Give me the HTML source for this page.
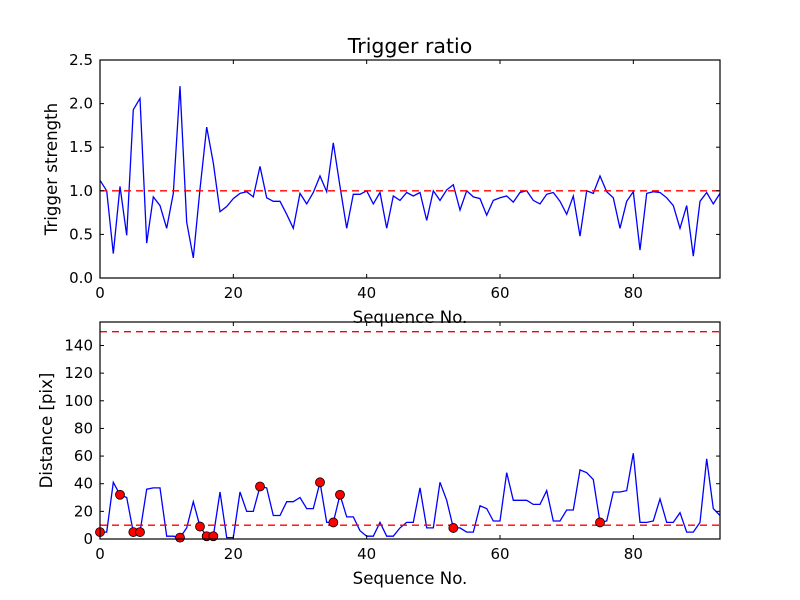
<!DOCTYPE html>
<html><head><meta charset="utf-8"><style>
body{margin:0;background:#fff}
svg{display:block;font-family:"DejaVu Sans","Liberation Sans",sans-serif}
</style></head><body>
<svg id="chart" width="800" height="600" viewBox="0 0 800 600">
<rect width="800" height="600" fill="#fff"/>
<text x="410" y="53" font-size="20.5" text-anchor="middle">Trigger ratio</text>
</svg>
<script>
const ratioValues=[1.12,1.0,0.28,1.05,0.49,1.93,2.06,0.40,0.93,0.83,0.57,0.97,2.20,0.64,0.23,1.02,1.73,1.32,0.76,0.82,0.91,0.97,0.99,0.93,1.28,0.92,0.88,0.88,0.73,0.57,0.97,0.85,0.98,1.17,0.99,1.55,1.05,0.57,0.96,0.96,1.0,0.85,0.98,0.57,0.94,0.89,0.98,0.94,0.98,0.66,1.0,0.89,1.01,1.07,0.78,1.0,0.93,0.91,0.72,0.89,0.92,0.94,0.87,0.98,1.0,0.89,0.85,0.96,0.98,0.88,0.73,0.94,0.48,1.0,0.97,1.17,0.99,0.92,0.57,0.88,0.99,0.32,0.97,0.99,0.98,0.92,0.83,0.57,0.83,0.25,0.88,0.98,0.85,0.97];
const distValues=[5,5,41,32,30,5,5,36,37,37,2,2,1,8,27,9,2,2,34,1,1,34,20,20,38,37,17,17,27,27,30,22,22,41,12,12,32,16,16,6,2,2,12,2,2,8,12,12,37,8,8,41,28,8,8,5,5,24,22,13,13,48,28,28,28,25,25,35,13,13,21,21,50,48,43,12,13,34,34,35,62,12,12,13,29,12,12,19,5,5,12,58,22,17];
const flaggedIdx=[0,3,5,6,12,15,16,17,24,33,35,36,53,75];
const xTicks=[0,20,40,60,80];
const ratioTicks=[0,0.5,1.0,1.5,2.0,2.5];
const ratioTickLabels=["0.0","0.5","1.0","1.5","2.0","2.5"];
const distTicks=[0,20,40,60,80,100,120,140];
const ratioThreshold=1.0;
const distThresholds=[10,150];

const NS="http://www.w3.org/2000/svg";
const svg=document.getElementById('chart');
function mk(tag,attrs,parent){const e=document.createElementNS(NS,tag);for(const k in attrs)e.setAttribute(k,attrs[k]);(parent||svg).appendChild(e);return e;}
const L=100,R=720,XMAX=93;
const xs=v=>L+(R-L)*v/XMAX;

function panel(top,bot,ymax,name){
  const ys=v=>bot-(bot-top)*v/ymax;
  return {top,bot,ys,name};
}
const p1=panel(60,278,2.5,'ratio');
const p2=panel(322,539,157,'distance');

function frame(p,yt,ylab,ytitle,ytitleX){
  const g=mk('g',{});
  
  
  xTicks.forEach(t=>{
    const x=xs(t);
    const a=mk('line',{x1:x,x2:x,y1:p.bot,y2:p.bot-4,stroke:'#000'},g);
    
    
    mk('line',{x1:x,x2:x,y1:p.top,y2:p.top+4,stroke:'#000'},g);
    const t2=mk('text',{x:x,y:p.bot+20,'font-size':15,'text-anchor':'middle'},g);
    t2.textContent=t;
    
    
  });
  yt.forEach((t,i)=>{
    const y=p.ys(t);
    const a=mk('line',{x1:L,x2:L+4,y1:y,y2:y,stroke:'#000'},g);
    
    
    mk('line',{x1:R,x2:R-4,y1:y,y2:y,stroke:'#000'},g);
    const t2=mk('text',{x:93,y:y+5,'font-size':15,'text-anchor':'end'},g);
    t2.textContent=ylab[i];
    
    
  });
  const xl=mk('text',{x:410,y:p.bot+45,'font-size':16.6,'text-anchor':'middle'},g);
  xl.textContent='Sequence No.';
  
  
  const cy=(p.top+p.bot)/2;
  const yl=mk('text',{x:ytitleX,y:cy,'font-size':16.6,'text-anchor':'middle',transform:`rotate(-90 ${ytitleX} ${cy})`},g);
  yl.textContent=ytitle;
  
  
}

function series(p,vals){
  const pts=vals.map((v,i)=>xs(i).toFixed(1)+','+p.ys(v).toFixed(1)).join(' ');
  const pl=mk('polyline',{points:pts,fill:'none',stroke:'#0000ff','stroke-width':1.3});
  
  
}
function hline(p,v){
  const l=mk('line',{x1:L,x2:R,y1:p.ys(v),y2:p.ys(v),stroke:'#ff0000','stroke-width':1.3,'stroke-dasharray':'7,5'});
  
  
}
function box(p){
  const b=mk('rect',{x:L,y:p.top,width:R-L,height:p.bot-p.top,fill:'none',stroke:'#000','stroke-width':1.2});
  
  
}

series(p1,ratioValues);
hline(p1,ratioThreshold);
box(p1);
frame(p1,ratioTicks,ratioTickLabels,'Trigger strength',57);

series(p2,distValues);
distThresholds.forEach(v=>hline(p2,v));
flaggedIdx.forEach(i=>{
  const c=mk('circle',{cx:xs(i),cy:p2.ys(distValues[i]),r:4.5,fill:'#ff0000',stroke:'#000','stroke-width':0.8});
  
  
});
box(p2);
frame(p2,distTicks,distTicks.map(String),'Distance [pix]',52);
</script>
</body></html>
